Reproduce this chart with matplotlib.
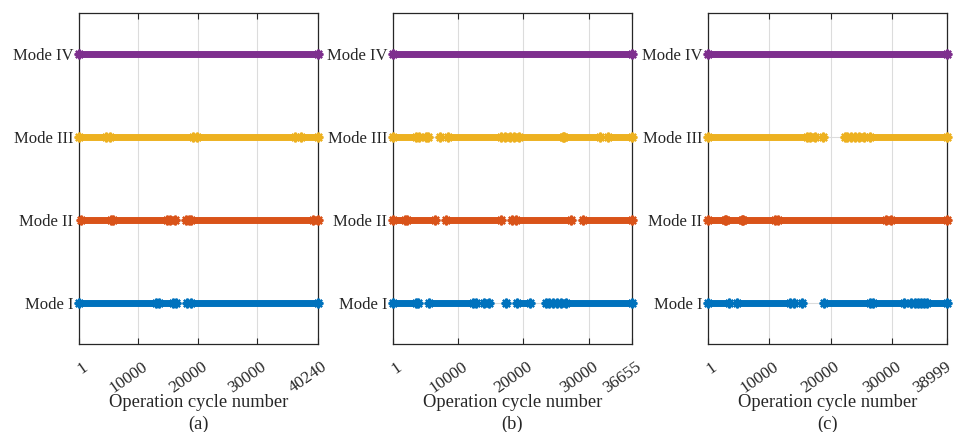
import matplotlib.pyplot as plt
import matplotlib.transforms as mtransforms

plt.rcParams['font.family'] = ['Liberation Serif', 'DejaVu Serif']
plt.rcParams['font.size'] = 11

mode_labels = ["Mode I", "Mode II", "Mode III", "Mode IV"]
mode_colors = ["#0072BD", "#D95319", "#EDB120", "#7E2F8E"]
panel_tags = ["(a)", "(b)", "(c)"]
cycles = [40240, 36655, 38999]

# dense runs of identified cycles (start, end) and isolated cycles
runs_a = [
    [(1, 13000), (13500, 15800), (18900, 40240)],
    [(400, 5400), (5800, 14900), (15400, 16100), (18900, 39400)],
    [(1, 4500), (5200, 19200), (19900, 36300), (37400, 40240)],
    [(1, 40240)],
]
pts_a = [
    [16300, 18200],
    [18100, 18500, 40240],
    [],
    [],
]

runs_b = [
    [(1, 3600), (5500, 12300), (14000, 14800), (19000, 21000), (26500, 36655)],
    [(1, 1800), (2200, 6400), (8200, 16600), (18900, 27300), (29100, 36655)],
    [(1, 3600), (8400, 16600), (19400, 26000), (26300, 31700), (32900, 36655)],
    [(1, 36655)],
]
pts_b = [
    [3900, 12800, 17300, 23500, 24000, 24600, 25200, 25800],
    [18300],
    [4000, 5000, 5400, 7200, 17200, 17900, 18600],
    [],
]

runs_c = [
    [(1, 3500), (4700, 13400), (19000, 26500), (26900, 32000), (35800, 38999)],
    [(1, 2700), (3000, 5500), (5700, 10900), (11500, 29000), (29800, 38999)],
    [(1, 16100), (16700, 17500), (26500, 38999)],
    [(1, 38999)],
]
pts_c = [
    [14100, 15400, 33100, 33700, 34300, 34800, 35300],
    [],
    [18800, 22300, 22700, 23300, 24000, 24700, 25400],
    [],
]

fig = plt.figure(figsize=(9.54, 4.32), dpi=100)
lefts = [79, 393, 708]

for k, (runs, pts) in enumerate(zip([runs_a, runs_b, runs_c], [pts_a, pts_b, pts_c])):
    ax = fig.add_axes([lefts[k] / 954, 88 / 432, 239 / 954, 331 / 432])
    n = cycles[k]
    for m in range(4):
        y = m + 1
        starts = [r[0] for r in runs[m]]
        ends = [r[1] for r in runs[m]]
        ax.hlines([y] * len(starts), starts, ends, colors=mode_colors[m],
                  linewidth=5.0, clip_on=False, zorder=3)
        xs = starts + ends + pts[m]
        ax.plot(xs, [y] * len(xs), linestyle='none', marker=(8, 2, 0), markersize=7,
                color=mode_colors[m], markeredgewidth=1.6, clip_on=False, zorder=3)

    ax.set_xlim(1, n)
    ax.set_ylim(0.5, 4.5)
    xticks = [1, 10000, 20000, 30000, n]
    ax.set_xticks(xticks)
    ax.set_xticklabels([])
    # rotated tick labels placed by hand so they can be nudged
    base = mtransforms.blended_transform_factory(ax.transData, ax.transAxes)
    for i, t in enumerate(xticks):
        dx = 3 if not (k == 2 and i == len(xticks) - 1) else -2
        off = mtransforms.ScaledTranslation(dx / 100, -15 / 100, fig.dpi_scale_trans)
        ax.text(t, 0, str(t), transform=base + off, rotation=35, ha='right', va='top',
                rotation_mode='anchor', fontsize=12.3, color='#262626')
    ax.set_yticks([1, 2, 3, 4])
    ax.set_yticklabels(mode_labels, fontsize=12)
    ax.tick_params(direction='in', top=True, right=True, length=4, width=0.8,
                   colors='#262626')
    ax.tick_params(axis='y', pad=4)
    ax.grid(True, color='#dcdcdc', linewidth=0.8, zorder=0)
    ax.set_axisbelow(True)
    for s in ax.spines.values():
        s.set_linewidth(0.9)
        s.set_color('#262626')
    ax.set_xlabel("Operation cycle number\n" + panel_tags[k], fontsize=13.3,
                  color='#262626', linespacing=1.3)
    ax.xaxis.set_label_coords(0.5, -0.152)

fig.savefig("out.png", dpi=100)
